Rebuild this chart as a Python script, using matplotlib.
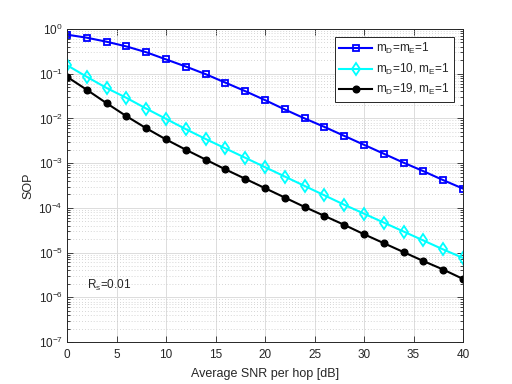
import numpy as np
import matplotlib
matplotlib.use("Agg")
import matplotlib.pyplot as plt
from matplotlib.ticker import LogLocator, NullFormatter, MultipleLocator, FixedLocator

plt.rcParams['font.family'] = ['Liberation Sans', 'DejaVu Sans']
plt.rcParams['mathtext.fontset'] = 'custom'
plt.rcParams['mathtext.rm'] = 'Liberation Sans'
plt.rcParams['mathtext.it'] = 'Liberation Sans'

snr_db = [0, 2, 4, 6, 8, 10, 12, 14, 16, 18, 20, 22, 24, 26, 28, 30, 32, 34, 36, 38, 40]
log_sop_1_1 = [-0.127, -0.195, -0.285, -0.39, -0.52, -0.68, -0.84, -1.01, -1.20, -1.39, -1.59,
               -1.80, -2.00, -2.19, -2.39, -2.59, -2.79, -2.99, -3.18, -3.38, -3.57]
log_sop_10_1 = [-0.81, -1.07, -1.32, -1.54, -1.78, -2.01, -2.24, -2.46, -2.67, -2.88, -3.09,
                -3.30, -3.51, -3.72, -3.93, -4.13, -4.33, -4.53, -4.73, -4.93, -5.12]
log_sop_19_1 = [-1.07, -1.36, -1.66, -1.95, -2.22, -2.47, -2.70, -2.92, -3.14, -3.35, -3.56,
                -3.77, -3.98, -4.18, -4.38, -4.59, -4.79, -4.99, -5.19, -5.38, -5.59]
y_decades = [-7, -6, -5, -4, -3, -2, -1, 0]
labels = ['m$_\\mathregular{D}$=m$_\\mathregular{E}$=1',
          'm$_\\mathregular{D}$=10, m$_\\mathregular{E}$=1',
          'm$_\\mathregular{D}$=19, m$_\\mathregular{E}$=1']

sop1 = 10 ** np.array(log_sop_1_1)
sop2 = 10 ** np.array(log_sop_10_1)
sop3 = 10 ** np.array(log_sop_19_1)

fig = plt.figure(figsize=(5.12, 3.84), dpi=100)
ax = fig.add_axes([0.1309, 0.1094, 0.7734, 0.8151])

ax.semilogy(snr_db, sop1, color='#0000ff', lw=1.5, marker='s', ms=4.8, mfc='none', mew=1.3, label=labels[0])
ax.semilogy(snr_db, sop2, color='#00ffff', lw=1.5, marker='d', ms=6, mfc='none', mew=1.3, label=labels[1])
ax.semilogy(snr_db, sop3, color='black', lw=1.5, marker='o', ms=4.8, mfc='black', mew=1.0, label=labels[2])

ax.set_xlim(0, 40)
ax.set_ylim(1e-7, 1)
ax.xaxis.set_major_locator(MultipleLocator(5))
ax.yaxis.set_major_locator(FixedLocator([10.0 ** d for d in y_decades]))
minor = [m * 10.0 ** d for d in y_decades[:-1] for m in range(2, 10)]
ax.yaxis.set_minor_locator(FixedLocator(minor))
ax.yaxis.set_minor_formatter(NullFormatter())

ax.grid(True, which='major', color='#dcdcdc', lw=0.7, ls='-')
ax.grid(True, which='minor', axis='y', color='#c8c8c8', lw=0.6, ls=(0, (1, 2.5)))
ax.set_axisbelow(True)

dark = '#262626'
for s in ax.spines.values():
    s.set_color(dark)
    s.set_linewidth(0.7)
ax.tick_params(which='both', direction='in', top=True, right=True, colors=dark, labelsize=8.5, width=0.6)
ax.tick_params(which='major', length=4)
ax.tick_params(which='minor', length=2)
ax.tick_params(axis='x', pad=5)
ax.tick_params(axis='y', pad=3)

ax.set_xlabel('Average SNR per hop [dB]', fontsize=9, color=dark, labelpad=5)
ax.set_ylabel('SOP', fontsize=9, color=dark, labelpad=3)

ax.text(2.0, 10 ** -5.73, 'R$_\\mathregular{s}$=0.01', fontsize=8.5, color=dark, va='center', ha='left')

leg = ax.legend(loc='upper right', bbox_to_anchor=(0.977, 0.976), fontsize=8.5, frameon=True,
                fancybox=False, edgecolor=dark, framealpha=1, handlelength=2.8,
                borderpad=0.4, labelspacing=0.45, handletextpad=0.3, borderaxespad=0)
leg.get_frame().set_linewidth(0.7)
for t in leg.get_texts():
    t.set_color(dark)

fig.savefig('out.png', dpi=100)
